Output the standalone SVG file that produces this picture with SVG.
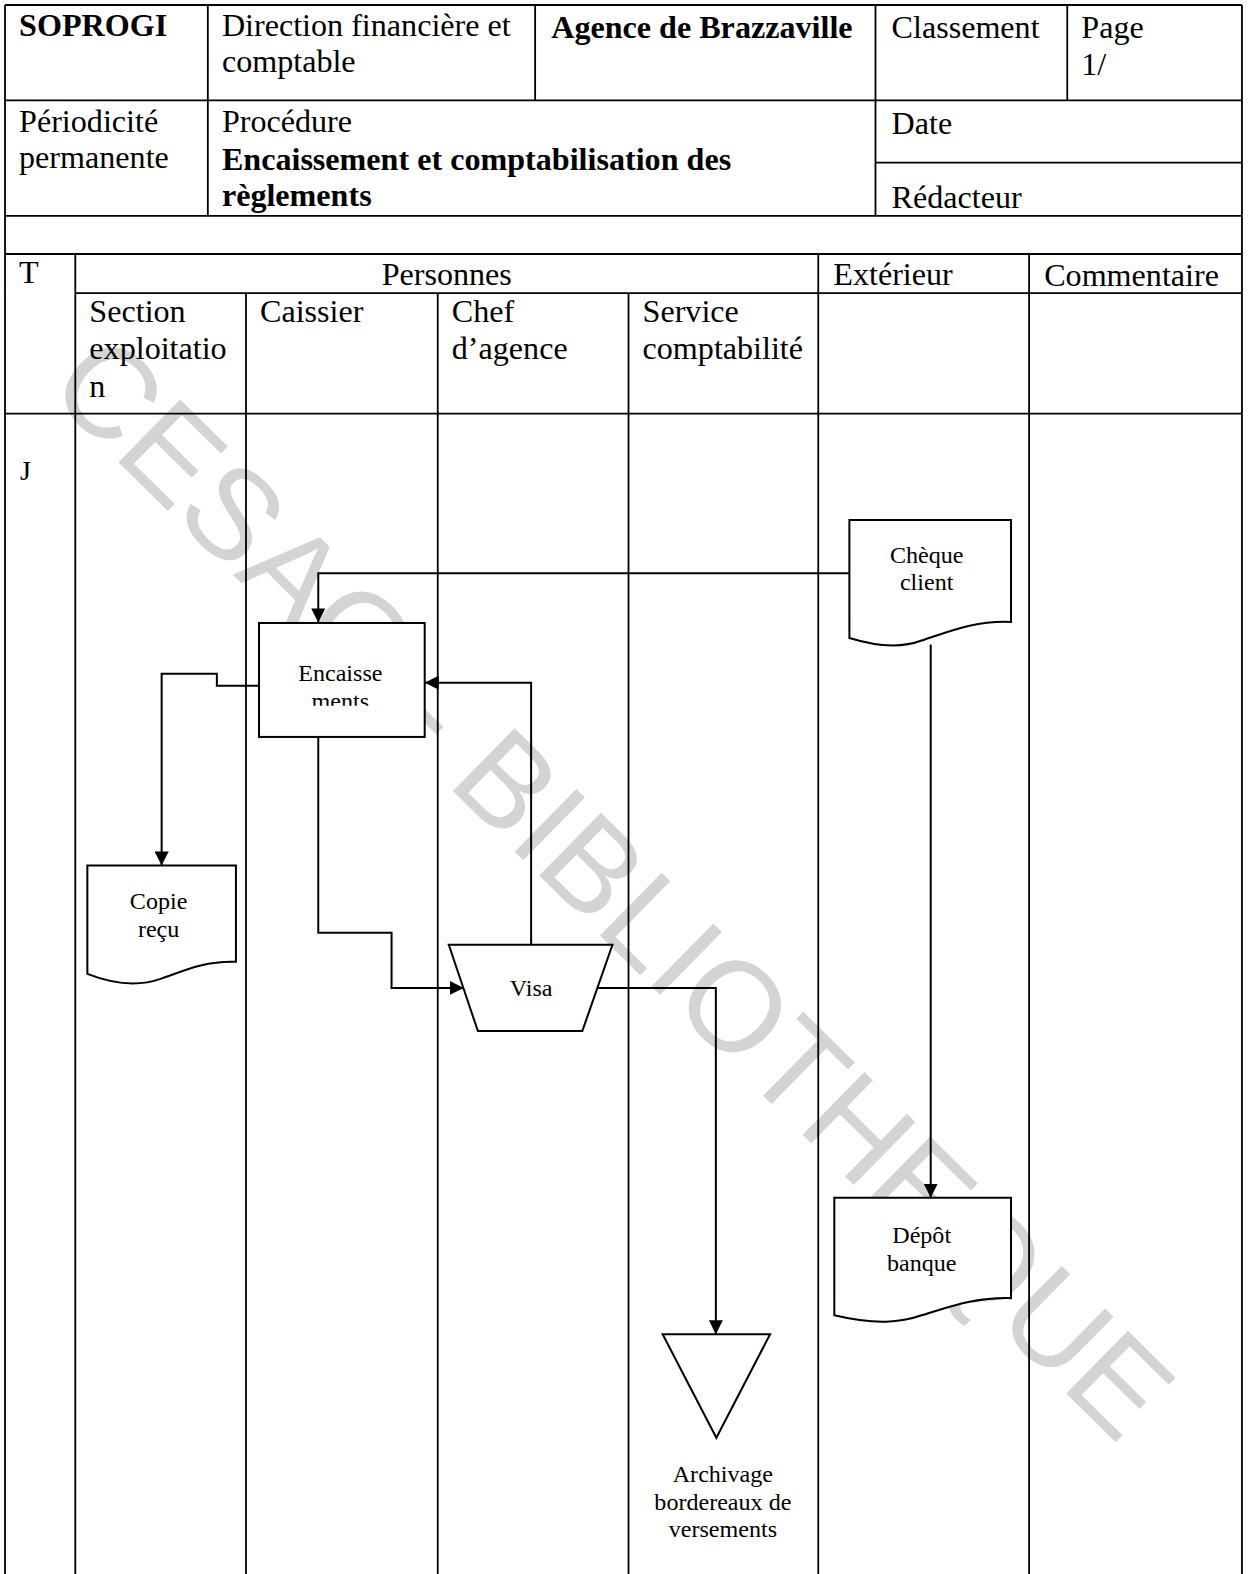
<svg xmlns="http://www.w3.org/2000/svg" width="1249" height="1574" viewBox="0 0 1249 1574">
<defs>
<style>
.t{font-family:"Liberation Serif","Times New Roman",serif;font-size:32px;fill:#000}
.b{font-weight:bold}
.n{font-family:"Liberation Serif","Times New Roman",serif;font-size:24px;fill:#000;text-anchor:middle}
.ln{stroke:#000;stroke-width:1.8;fill:none}
.sh{stroke:#000;stroke-width:2;fill:#fff}
.cn{stroke:#000;stroke-width:2;fill:none}
.wm{font-family:"Liberation Sans",Arial,sans-serif;font-size:127.4px;fill:#d4d4d4;text-anchor:middle}
</style>
<marker id="ar" viewBox="0 0 14 14" refX="14" refY="7" markerWidth="14" markerHeight="14" markerUnits="userSpaceOnUse" orient="auto">
<path d="M0,0 L14,7 L0,14 Z" fill="#000"/>
</marker>
<clipPath id="encClip"><rect x="259" y="621" width="163" height="82"/></clipPath>
</defs>
<rect width="1249" height="1574" fill="#fff"/>
<g transform="scale(1.004)">
<text class="wm" transform="rotate(44.5 580 914.5)" x="580" y="914.5">CESAG - BIBLIOTHEQUE</text>

<g id="table">
<path class="ln" d="M5,5 H1237 M5,100 H1237 M872,162 H1237 M5,215 H1237 M5,253 H1237 M75,292 H1237 M5,412 H1237"/>
<path class="ln" d="M5,5 V1568 M1237,5 V1568 M207,5 V215 M533,5 V100 M872,5 V215 M1063,5 V100 M75,253 V1568 M245,292 V1568 M436,292 V1568 M626,292 V1568 M815,253 V1568 M1025,253 V1568"/>
<text class="t b" x="19" y="36">SOPROGI</text>
<text class="t" x="221" y="36">Direction financière et</text>
<text class="t" x="221" y="72">comptable</text>
<text class="t b" x="549" y="38">Agence de Brazzaville</text>
<text class="t" x="888" y="38">Classement</text>
<text class="t" x="1077" y="38">Page</text>
<text class="t" x="1077" y="75">1/</text>
<text class="t" x="19" y="131">Périodicité</text>
<text class="t" x="19" y="167">permanente</text>
<text class="t" x="221" y="131">Procédure</text>
<text class="t b" x="221" y="169">Encaissement et comptabilisation des</text>
<text class="t b" x="221" y="205">règlements</text>
<text class="t" x="888" y="133">Date</text>
<text class="t" x="888" y="207">Rédacteur</text>
<text class="t" x="19" y="282">T</text>
<text class="t" x="445" y="284" text-anchor="middle">Personnes</text>
<text class="t" x="830" y="284">Extérieur</text>
<text class="t" x="1040" y="285">Commentaire</text>
<text class="t" x="89" y="321">Section</text>
<text class="t" x="89" y="358">exploitatio</text>
<text class="t" x="89" y="395">n</text>
<text class="t" x="259" y="321">Caissier</text>
<text class="t" x="450" y="321">Chef</text>
<text class="t" x="450" y="358">d’agence</text>
<text class="t" x="640" y="321">Service</text>
<text class="t" x="640" y="358">comptabilité</text>
<text class="t" x="20" y="478" style="font-size:28px">J</text>
</g>

<g id="connectors">
<path class="cn" d="M846,571 H317 V620" marker-end="url(#ar)"/>
<path class="cn" d="M258,683 H216 V671 H161 V862" marker-end="url(#ar)"/>
<path class="cn" d="M317,734 V929 H390 V984 H462" marker-end="url(#ar)"/>
<path class="cn" d="M529,941 V680 H423" marker-end="url(#ar)"/>
<path class="cn" d="M595,984 H713 V1329" marker-end="url(#ar)"/>
<path class="cn" d="M927,642 V1193" marker-end="url(#ar)"/>
</g>

<g id="cheque-client">
<path class="sh" d="M846,518 H1007 V619.5 C972,618 948,628 918,638 C902,644 880,646 846,635.5 Z"/>
<text class="n" x="923" y="561">Chèque</text>
<text class="n" x="923" y="588">client</text>
</g>

<g id="encaissements">
<rect class="sh" x="258" y="620.5" width="165" height="113.5"/>
<g clip-path="url(#encClip)">
<text class="n" x="339" y="678">Encaisse</text>
<text class="n" x="339" y="706">ments</text>
</g>
</g>

<g id="copie-recu">
<path class="sh" d="M87,862 H235 V958 C205,957 185,966 160,975 C140,982 115,981 87,970 Z"/>
<text class="n" x="158" y="905">Copie</text>
<text class="n" x="158" y="933">reçu</text>
</g>

<g id="visa">
<path class="sh" d="M447,941 H610 L580,1027 H476 Z"/>
<text class="n" x="529" y="992">Visa</text>
</g>

<g id="archivage">
<path class="sh" d="M660,1329 H767 L713.5,1432 Z"/>
<text class="n" x="720" y="1476">Archivage</text>
<text class="n" x="720" y="1504">bordereaux de</text>
<text class="n" x="720" y="1531">versements</text>
</g>

<g id="depot-banque">
<path class="sh" d="M831,1193 H1007 V1293 C972,1292 948,1301 918,1310 C898,1317 873,1320 831,1310 Z"/>
<text class="n" x="918" y="1238">Dépôt</text>
<text class="n" x="918" y="1266">banque</text>
</g>
</g>
</svg>
